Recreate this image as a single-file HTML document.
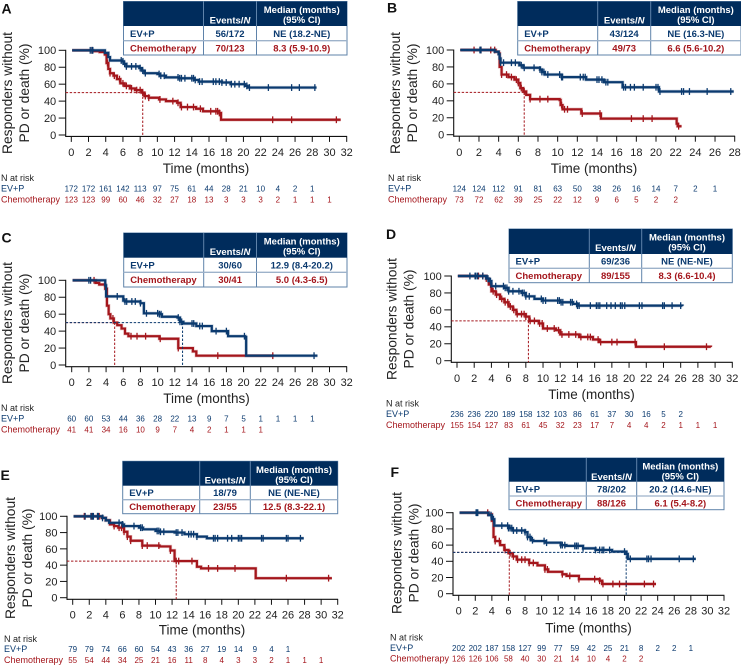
<!DOCTYPE html>
<html lang="en">
<head>
<meta charset="utf-8">
<title>Kaplan-Meier panels A-F: responders without PD or death</title>
<style>
html,body{margin:0;padding:0;background:#fff;width:741px;height:666px;overflow:hidden}
svg{display:block;font-family:"Liberation Sans",Arial,sans-serif;filter:blur(0.3px)}
</style>
</head>
<body>
<svg id="figure" width="741" height="666" viewBox="0 0 741 666" xmlns="http://www.w3.org/2000/svg"></svg>
<script>
/* ---------- Panel A data ---------- */
const aEvMonths = [0.1,3.9,4.3,4.5,5.9,6.1,6.4,7.9,8.2,8.5,10,10.3,11,12.5,14.3,14.8,17.5,18.5,20.2,20.5,28.5];
const aEvSurvival = [100,97,92,88,87,84,81,79,76,73,72,70,68,67,65,63,62,60,58,56,56];
const aEvCensored = [2.2,2.4,2.5,5.8,6,6.2,6.4,7,7.5,8,8.3,8.6,10.2,10.4,10.8,12.4,12.6,12.8,13.2,14,14.2,14.4,14.9,15.2,16.5,16.8,17.2,17.5,18,18.6,19,19.5,20.1,20.4,20.7,22.9,25.6,26.5,28.3];
const aChemoMonths = [0.1,2.5,3.3,3.9,4.1,4.3,4.5,4.9,5.3,5.7,6.2,6.8,7.4,8.2,8.5,9,10.2,11,12.3,12.7,14.5,15.3,17.2,17.4,31.3];
const aChemoSurvival = [100,99,98,95,85,78,73,70,66,61,58,55,53,50,46,44,42,40,38,33,31,28,26,18,18];
const aChemoCensored = [2.4,4.2,4.5,5,5.6,6,6.4,7,7.6,8,8.3,8.6,9,10.3,11.8,12.4,12.8,13.5,14.2,15,16.2,16.8,17,17.2,23.4,25.6,30.8];
const aEvRisk = [172,172,161,142,113,97,75,61,44,28,21,10,4,2,1];
const aChemoRisk = [123,123,99,60,46,32,27,18,13,3,3,3,2,1,1,1];
const aTableValues = ["56/172","NE (18.2-NE)","70/123","8.3 (5.9-10.9)"];
const aMedians = [{series:"chemo",level:50,month:8.3}];

/* ---------- Panel B data ---------- */
const bEvMonths = [0.1,3.6,4,4.1,4.2,6.1,6.5,8.2,8.4,8.7,10.4,12.9,14.7,16.6,20.3,27.9];
const bEvSurvival = [100,98,95,90,85,82,79,77,74,71,68,65,62,56,51,51];
const bEvCensored = [2.1,2.2,4.2,4.5,5.3,5.7,6.3,6.6,7.6,8.2,8.4,8.6,9,10.2,10.4,10.5,12.3,12.6,12.8,14,14.2,14.5,14.9,15.1,16.7,16.9,17.4,17.8,18.7,20,20.2,20.4,22.6,22.8,23.4,25.2,27.6];
const bChemoMonths = [0.1,3.7,4,4.1,4.3,5,5.6,6,6.2,6.5,6.8,7.2,10.2,10.3,10.5,12.4,14.4,22.1,22.2,22.6];
const bChemoSurvival = [100,98,96,80,71,68,65,61,55,51,47,42,41,35,30,25,19,13,10,10];
const bChemoCensored = [1.5,2.2,3.2,3.6,4.3,4.8,5.3,5.8,6,6.3,6.6,7.2,8.2,9,10.4,10.7,11,12.5,14.3,17.5,18.7,19.6,22.3];
const bEvRisk = [124,124,112,91,81,63,50,38,26,16,14,7,2,1];
const bChemoRisk = [73,72,62,39,25,22,12,9,6,5,2,2];
const bTableValues = ["43/124","NE (16.3-NE)","49/73","6.6 (5.6-10.2)"];
const bMedians = [{series:"chemo",level:50,month:6.6}];

/* ---------- Panel C data ---------- */
const cEvMonths = [0.1,3.9,4,6,6.2,8,8.4,10.2,10.5,12.3,12.6,13,14.5,16.3,18.2,20.2,20.3,28.6];
const cEvSurvival = [100,94,81,76,75,73,61,60,57,56,51,49,46,40,34,33,11,11];
const cEvCensored = [2,2.2,5.3,6.2,6.4,7,7.4,8,8.7,10,10.2,10.4,12.4,12.6,12.8,14,14.2,14.9,15.2,16.8,18,20.1,28.2];
const cChemoMonths = [0.1,2.8,3.2,3.9,4.1,4.3,4.5,4.9,5.3,5.8,6.2,6.6,10.2,12.4,14.1,14.5,23.5];
const cChemoSurvival = [100,97,95,90,70,60,55,50,47,43,37,34,31,20,16,11,11];
const cChemoCensored = [2.6,4.8,6.9,7.6,8.6,10.3,12.4,17,23.4];
const cEvRisk = [60,60,53,44,36,28,22,13,9,7,5,1,1,1,1];
const cChemoRisk = [41,41,34,16,10,9,7,4,2,1,1,1];
const cTableValues = ["30/60","12.9 (8.4-20.2)","30/41","5.0 (4.3-6.5)"];
const cMedians = [{series:"chemo",level:50,month:5},{series:"ev",level:50,month:12.9}];

/* ---------- Panel D data ---------- */
const dEvMonths = [0.1,3.4,3.7,4,5.5,6,7.5,8,9,10,12,13.5,14,26.2];
const dEvSurvival = [100,97,94,88,86,82,80,76,73,71,69,67,65,64.5];
const dEvCensored = [1.5,2.1,2.2,2.4,3,3.6,3.9,4.5,5.4,5.6,5.8,6,6.5,7.2,7.6,7.8,8,8.4,9.8,10,10.3,11.7,11.9,12.1,12.3,13.2,13.4,13.9,14,14.2,15.5,16.2,16.4,16.6,17.4,17.9,18.4,19,19.2,19.5,21.2,21.5,23.9,24.1,25,26];
const dChemoMonths = [0.1,3.4,3.7,4,4.5,5,5.5,6,6.5,6.9,8,8.4,9.5,10,11.5,12,14.2,15.8,16.5,20.8,29.5];
const dChemoSurvival = [100,97,90,82,78,73,69,64,60,55,52,47,44,38,36,31,28,25,22,16.5,16];
const dChemoCensored = [2.5,3,3.4,3.9,4.2,4.6,5.2,5.6,5.9,6.2,6.6,7,7.5,7.8,8,8.5,9,9.6,9.9,10.5,11.3,11.8,12.2,13,13.8,14.4,15.2,15.5,16.4,16.7,18,18.6,20.7,24.1,29];
const dEvRisk = [236,236,220,189,158,132,103,86,61,37,30,16,5,2];
const dChemoRisk = [155,154,127,83,61,45,32,23,17,7,4,4,2,1,1,1];
const dTableValues = ["69/236","NE (NE-NE)","89/155","8.3 (6.6-10.4)"];
const dMedians = [{series:"chemo",level:47,month:8.3}];

/* ---------- Panel E data ---------- */
const eEvMonths = [0.1,3.6,4,4.4,6,6.2,8,8.5,10,10.5,12.3,13.5,15,16.2,27.9];
const eEvSurvival = [100,98,95,92,90,88,86,84,82,81,80,78,75,73,73];
const eEvCensored = [1.5,2.2,2.4,2.5,3,3.1,3.6,5.6,6,7.4,8.2,8.4,10.2,10.4,10.6,11,12.5,12.7,13.2,14,14.3,14.6,15,17,17.2,17.5,18.7,19.2,20,20.2,20.4,22.8,23,25.8,26,27.5];
const eChemoMonths = [0.1,3.5,4,4.5,5,5.5,6.2,6.6,7,8.4,10.5,11.8,12.3,15,15.5,22.1,31.3];
const eChemoSurvival = [100,98,95,90,88,86,81,75,70,64,63,58,45,38,36,24,24];
const eChemoCensored = [1.4,2.3,3,3.2,5,5.6,5.9,6.2,6.6,7,8.4,9,10.4,11.8,12.5,12.8,14.4,16.4,17.5,19.6,25.8,30.9];
const eEvRisk = [79,79,74,66,60,54,43,36,27,19,14,9,4,1];
const eChemoRisk = [55,54,44,34,25,21,16,11,8,4,3,3,2,1,1,1];
const eTableValues = ["18/79","NE (NE-NE)","23/55","12.5 (8.3-22.1)"];
const eMedians = [{series:"chemo",level:45,month:12.5}];

/* ---------- Panel F data ---------- */
const fEvMonths = [0.1,3.6,4,4.3,6,6.5,8,8.3,8.7,9,10.5,12.3,13,15,16.5,18.5,20.2,20.4,28.6];
const fEvSurvival = [100,97,92,84,81,78,76,70,66,65,63,60,59,56,54,52,49,43,43];
const fEvCensored = [2.1,2.2,2.3,3.9,4.2,5.2,5.9,6,6.2,6.4,6.6,7,7.6,8,8.3,8.6,8.9,10.3,10.6,12.3,12.5,12.8,14,14.2,14.4,15,16.5,17,17.3,17.5,18.2,20,20.3,20.7,22.7,22.9,23.2,26.6,28.3];
const fChemoMonths = [0.1,3.6,4,4.2,4.4,5,5.5,6,6.5,7,8.5,9.5,10.4,10.8,12.5,13,14.5,17,17.3,23.8];
const fChemoSurvival = [100,98,90,70,65,60,54,50,46,42,38,35,30,27,24,22,18,16,12,12];
const fChemoCensored = [3.5,4.4,4.9,5.6,6.2,6.6,7.1,7.6,8,8.5,9,10.4,10.7,12.5,13.4,14.5,16.4,17,17.4,18.6,19.4,20.2,22.4,23.5];
const fEvRisk = [202,202,187,158,127,99,77,59,42,25,21,8,2,2,1];
const fChemoRisk = [126,126,106,58,40,30,21,14,10,4,2,2];
const fTableValues = ["78/202","20.2 (14.6-NE)","88/126","6.1 (5.4-8.2)"];
const fMedians = [{series:"chemo",level:51,month:6.1},{series:"ev",level:51,month:20.2}];

/* ---------- Shared labels ---------- */
const percentTicks = [0,20,40,60,80,100];
const tableHeaderMedian = ["Median (months)","(95% CI)"];
const seriesNames = ["EV+P","Chemotherapy"];

const NAVY = "#0b3a6f", RED = "#a4161c", HEAD = "#002c5c", GRID = "#5f83aa";
const SVGNS = "http://www.w3.org/2000/svg";
const figure = document.getElementById("figure");

function add(parent, tag, attrs, text) {
  const node = document.createElementNS(SVGNS, tag);
  for (const k in attrs) node.setAttribute(k, attrs[k]);
  if (text !== undefined) node.textContent = text;
  parent.appendChild(node);
  return node;
}
function survivalAt(months, survival, t) {
  let s = survival[0];
  for (let i = 0; i < months.length; i++) { if (months[i] <= t) s = survival[i]; }
  return s;
}

function drawPanel(p, d) {
  const sx = t => p.x0 + (t / p.xMax) * (p.x1 - p.x0);
  const sy = v => p.y0 + (v / 100) * (p.y100 - p.y0);
  const id = p.id.toLowerCase();

  const g = add(figure, "g", {});
  
  

  const letter = add(g, "text", {x:p.letterX, y:p.letterY, "font-size":14, "font-weight":"bold", fill:"#111"}, p.id);
  
  

  /* axes */
  const yAxis = add(g, "line", {x1:p.left, x2:p.left, y1:p.y100 - 0.5, y2:p.bottom + 0.6, stroke:"#111", "stroke-width":1.1});
  
  
  const xAxis = add(g, "line", {x1:p.left, x2:p.x1 + 0.4, y1:p.bottom, y2:p.bottom, stroke:"#111", "stroke-width":1.1});
  
  

  percentTicks.forEach(v => {
    const tick = add(g, "line", {x1:p.left - 7, x2:p.left, y1:sy(v), y2:sy(v), stroke:"#111", "stroke-width":1});
    
    
    const label = add(g, "text", {x:p.left - 9.5, y:sy(v) + 3.9, "font-size":11, "text-anchor":"end", fill:"#222"}, v);
    
    
  });
  for (let t = 0; t <= p.xMax; t += 2) {
    const tick = add(g, "line", {x1:sx(t), x2:sx(t), y1:p.bottom, y2:p.bottom + 5.5, stroke:"#111", "stroke-width":1});
    
    
    const label = add(g, "text", {x:sx(t), y:p.tickY, "font-size":11, "text-anchor":"middle", fill:"#222"}, t);
    
    
  }

  const xTitle = add(g, "text", {x:p.titleX, y:p.titleY, "font-size":13.5, "text-anchor":"middle", fill:"#222"}, "Time (months)");
  
  
  const yTitleA = add(g, "text", {transform:"translate(" + p.yTitleX1 + " " + p.yTitleY + ") rotate(-90)", "font-size":13.8, "text-anchor":"middle", fill:"#222"}, "Responders without");
  
  
  const yTitleB = add(g, "text", {transform:"translate(" + p.yTitleX2 + " " + p.yTitleY + ") rotate(-90)", "font-size":13.8, "text-anchor":"middle", fill:"#222"}, "PD or death (%)");
  
  

  /* series: chemotherapy below EV+P */
  const series = [
    {key:"chemo", color:RED, months:d.chemoMonths, surv:d.chemoSurvival, cens:d.chemoCensored},
    {key:"ev", color:NAVY, months:d.evMonths, surv:d.evSurvival, cens:d.evCensored}
  ];
  series.forEach(s => {
    let path = "";
    s.months.forEach((t, i) => {
      path += i === 0 ? "M" + sx(t) + " " + sy(s.surv[i])
                      : "H" + sx(t) + "V" + sy(s.surv[i]);
    });
    const halo = add(g, "path", {d:path, fill:"none", stroke:s.color, "stroke-width":3.4, "stroke-opacity":0.25});
    
    
    const curve = add(g, "path", {d:path, fill:"none", stroke:s.color, "stroke-width":2.2});
    
    
    s.cens.forEach(t => {
      const y = sy(survivalAt(s.months, s.surv, t));
      const mark = add(g, "line", {x1:sx(t), x2:sx(t), y1:y - 3.4, y2:y + 3.4, stroke:s.color, "stroke-width":1.3});
      
      
    });
  });

  /* median guide lines */
  d.medians.forEach(m => {
    const color = m.series === "ev" ? NAVY : RED;
    const h = add(g, "line", {x1:p.left, x2:sx(m.month), y1:sy(m.level), y2:sy(m.level), stroke:color, "stroke-width":1, "stroke-dasharray":"2.4 1.6"});
    
    
    const v = add(g, "line", {x1:sx(m.month), x2:sx(m.month), y1:sy(m.level), y2:p.bottom, stroke:color, "stroke-width":1, "stroke-dasharray":"2.4 1.6"});
    
    
  });

  /* results table */
  const tb = add(g, "g", {"font-size":9.5, "font-weight":"bold"});
  
  
  const tw = p.tR - p.tL, c1 = p.tC1, c2 = p.tC2;
  const bg = add(tb, "rect", {x:p.tL, y:p.tT, width:tw, height:p.tB - p.tT, fill:"#fff", stroke:GRID, "stroke-width":1});
  
  
  const head = add(tb, "rect", {x:p.tL, y:p.tT, width:tw, height:p.tH - p.tT, fill:HEAD});
  
  
  [c1, c2].forEach(cx => {
    const divider = add(tb, "line", {x1:cx, x2:cx, y1:p.tT, y2:p.tB, stroke:GRID, "stroke-width":1});
    
    
  });
  const rowLine = add(tb, "line", {x1:p.tL, x2:p.tR, y1:p.tR1, y2:p.tR1, stroke:"#9db2ca", "stroke-width":1.3});
  
  

  const midC1 = (c1 + c2) / 2, midC2 = (c2 + p.tR) / 2;
  const ev = add(tb, "text", {x:midC1, y:p.tT + 22, "text-anchor":"middle", fill:"#fff"});
  
  
  add(ev, "tspan", {}, "Events/");
  add(ev, "tspan", {"font-style":"italic"}, "N");
  const med = add(tb, "text", {x:midC2, y:p.tT + 11.7, "text-anchor":"middle", fill:"#fff"}, tableHeaderMedian[0]);
  
  
  const ci = add(tb, "text", {x:midC2, y:p.tT + 21.7, "text-anchor":"middle", fill:"#fff"}, tableHeaderMedian[1]);
  
  

  const y1 = (p.tH + p.tR1) / 2 + 3.4, y2 = (p.tR1 + p.tB) / 2 + 3.4;
  [[y1, NAVY, 0], [y2, RED, 1]].forEach(r => {
    const name = add(tb, "text", {x:p.tL + 6.5, y:r[0], fill:r[1]}, seriesNames[r[2]]);
    
    
    const events = add(tb, "text", {x:midC1, y:r[0], "text-anchor":"middle", fill:r[1]}, d.table[r[2] * 2]);
    
    
    const median = add(tb, "text", {x:midC2, y:r[0], "text-anchor":"middle", fill:r[1]}, d.table[r[2] * 2 + 1]);
    
    
  });

  /* number at risk */
  const nar = add(g, "text", {x:p.riskX, y:p.riskY0, "font-size":9, fill:"#222"}, "N at risk");
  
  
  const evName = add(g, "text", {x:p.riskX, y:p.riskY1, "font-size":9, fill:NAVY}, seriesNames[0]);
  
  
  const chName = add(g, "text", {x:p.riskX, y:p.riskY2, "font-size":9, fill:RED}, seriesNames[1]);
  
  
  d.evRisk.forEach((n, i) => {
    const cell = add(g, "text", {x:sx(i * 2), y:p.riskY1, "font-size":8, "text-anchor":"middle", fill:NAVY}, n);
    
    
  });
  d.chemoRisk.forEach((n, i) => {
    const cell = add(g, "text", {x:sx(i * 2), y:p.riskY2, "font-size":8, "text-anchor":"middle", fill:RED}, n);
    
    
  });
}

drawPanel(
  {id:"A", xMax:32, x0:71.3, x1:346.7, y0:135, y100:50.3, left:65.7, bottom:136.4, letterX:1.5, letterY:13.5, tickY:156, titleX:206, titleY:173, yTitleX1:12, yTitleX2:29, yTitleY:93, riskX:1, riskY0:181, riskY1:191.5, riskY2:202.5, tL:123.5, tR:347, tT:1.5, tH:26, tR1:40.7, tB:55, tC1:203.5, tC2:256.5},
  {evMonths:aEvMonths, evSurvival:aEvSurvival, evCensored:aEvCensored, chemoMonths:aChemoMonths, chemoSurvival:aChemoSurvival, chemoCensored:aChemoCensored, evRisk:aEvRisk, chemoRisk:aChemoRisk, table:aTableValues, medians:aMedians}
);
drawPanel(
  {id:"B", xMax:28, x0:459.3, x1:734.7, y0:134.7, y100:50, left:453.7, bottom:136.2, letterX:387, letterY:12.7, tickY:156, titleX:594, titleY:173, yTitleX1:400, yTitleX2:417, yTitleY:93, riskX:388, riskY0:181, riskY1:191.5, riskY2:202.5, tL:517.7, tR:741, tT:1.5, tH:26, tR1:40.7, tB:55, tC1:597.7, tC2:650.7},
  {evMonths:bEvMonths, evSurvival:bEvSurvival, evCensored:bEvCensored, chemoMonths:bChemoMonths, chemoSurvival:bChemoSurvival, chemoCensored:bChemoCensored, evRisk:bEvRisk, chemoRisk:bChemoRisk, table:bTableValues, medians:bMedians}
);
drawPanel(
  {id:"C", xMax:32, x0:71.7, x1:346.7, y0:365, y100:280.3, left:65.7, bottom:366.7, letterX:1.5, letterY:242.7, tickY:386, titleX:206.5, titleY:403, yTitleX1:12, yTitleX2:29, yTitleY:323, riskX:1, riskY0:411, riskY1:421.5, riskY2:432.5, tL:123.7, tR:347, tT:233, tH:257.7, tR1:272.3, tB:287, tC1:203.7, tC2:256.5},
  {evMonths:cEvMonths, evSurvival:cEvSurvival, evCensored:cEvCensored, chemoMonths:cChemoMonths, chemoSurvival:cChemoSurvival, chemoCensored:cChemoCensored, evRisk:cEvRisk, chemoRisk:cChemoRisk, table:cTableValues, medians:cMedians}
);
drawPanel(
  {id:"D", xMax:32, x0:457, x1:732.3, y0:360.7, y100:276, left:451.3, bottom:362.3, letterX:386, letterY:239, tickY:382, titleX:591.5, titleY:399, yTitleX1:396.5, yTitleX2:413.5, yTitleY:319, riskX:386, riskY0:406.5, riskY1:417, riskY2:428, tL:509, tR:732.3, tT:229, tH:254, tR1:268.3, tB:282.7, tC1:589.3, tC2:641.7},
  {evMonths:dEvMonths, evSurvival:dEvSurvival, evCensored:dEvCensored, chemoMonths:dChemoMonths, chemoSurvival:dChemoSurvival, chemoCensored:dChemoCensored, evRisk:dEvRisk, chemoRisk:dChemoRisk, table:dTableValues, medians:dMedians}
);
drawPanel(
  {id:"E", xMax:32, x0:72.7, x1:337.7, y0:597.7, y100:516.3, left:67, bottom:599.3, letterX:0.5, letterY:480, tickY:618.3, titleX:202, titleY:634.5, yTitleX1:15, yTitleX2:32, yTitleY:558, riskX:4, riskY0:642, riskY1:652, riskY2:662.8, tL:122.7, tR:337.7, tT:461.3, tH:485.7, tR1:499.7, tB:513.7, tC1:199.7, tC2:250.3},
  {evMonths:eEvMonths, evSurvival:eEvSurvival, evCensored:eEvCensored, chemoMonths:eChemoMonths, chemoSurvival:eChemoSurvival, chemoCensored:eChemoCensored, evRisk:eEvRisk, chemoRisk:eChemoRisk, table:eTableValues, medians:eMedians}
);
drawPanel(
  {id:"F", xMax:32, x0:458.7, x1:724, y0:593.7, y100:512.7, left:453, bottom:595.3, letterX:390.5, letterY:477, tickY:614.3, titleX:588.5, titleY:632.5, yTitleX1:401.5, yTitleX2:418.5, yTitleY:553, riskX:390, riskY0:640.5, riskY1:651, riskY2:661.5, tL:509, tR:724, tT:458, tH:481.7, tR1:496, tB:509.7, tC1:586.3, tC2:636.7},
  {evMonths:fEvMonths, evSurvival:fEvSurvival, evCensored:fEvCensored, chemoMonths:fChemoMonths, chemoSurvival:fChemoSurvival, chemoCensored:fChemoCensored, evRisk:fEvRisk, chemoRisk:fChemoRisk, table:fTableValues, medians:fMedians}
);
</script>
</body>
</html>
